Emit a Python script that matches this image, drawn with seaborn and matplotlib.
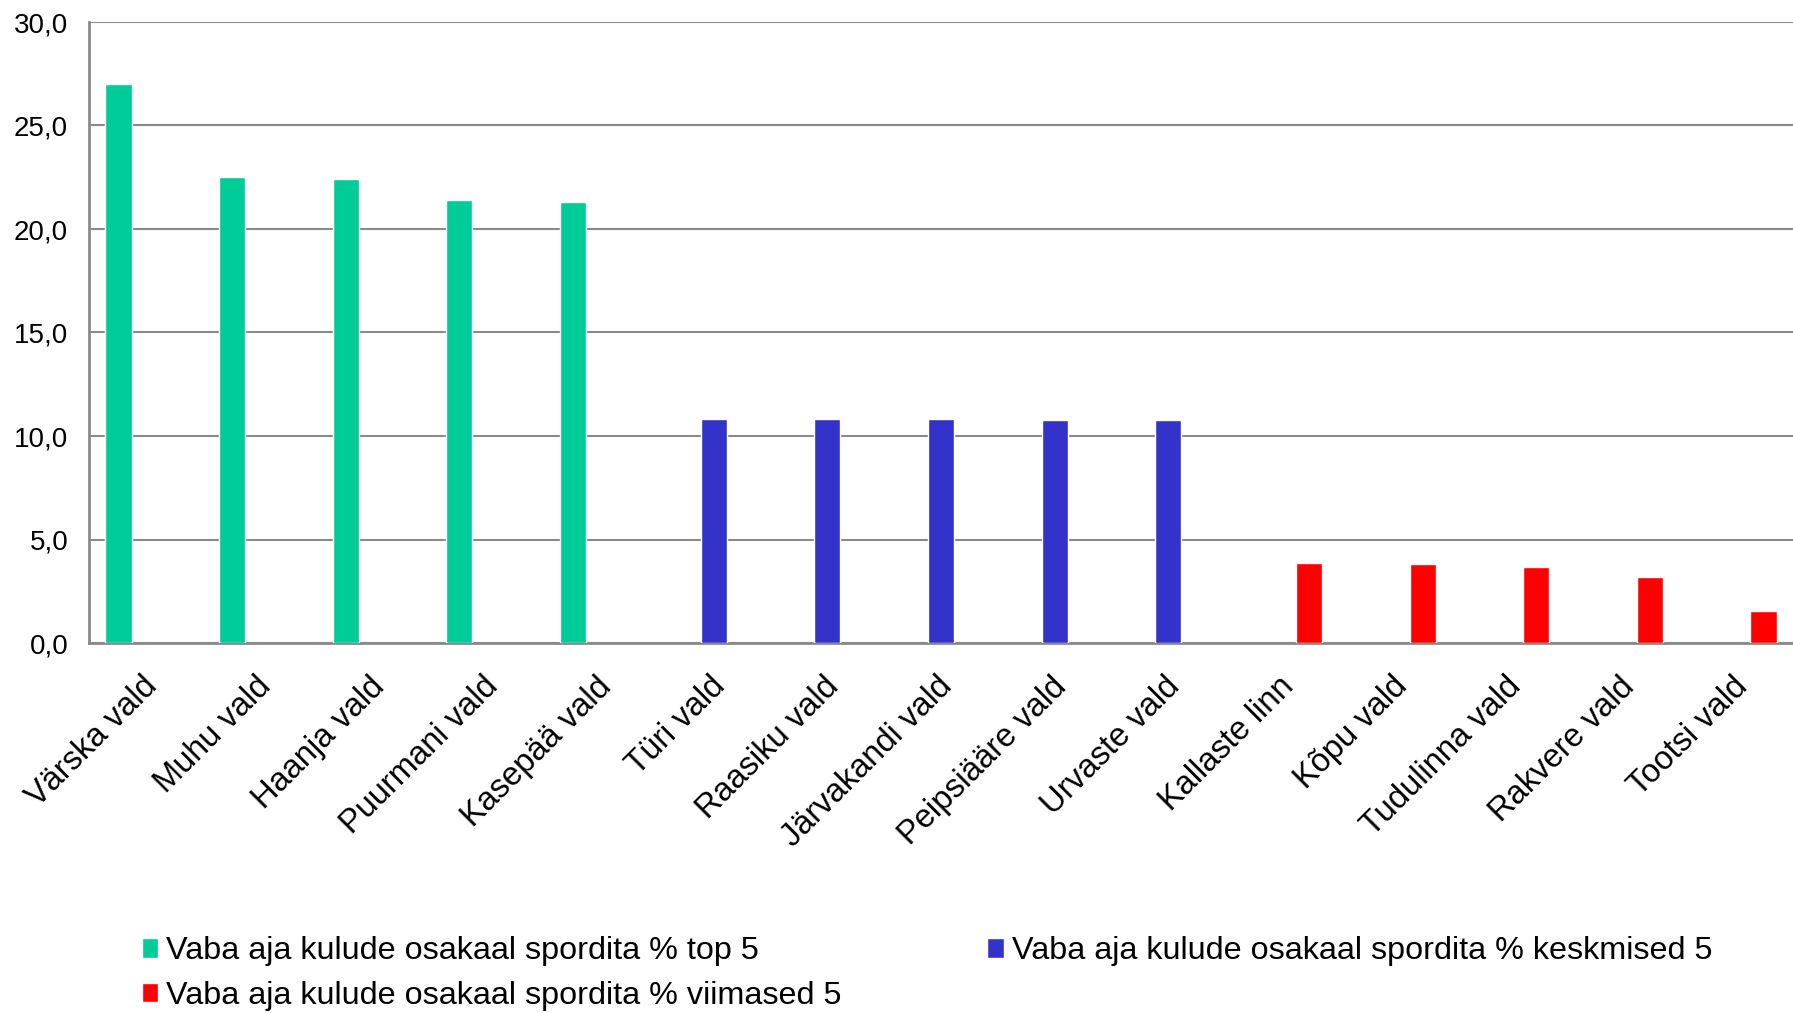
import matplotlib
matplotlib.use("Agg")
import matplotlib.pyplot as plt
import matplotlib.transforms as mtransforms
import pandas as pd
import seaborn as sns

# data
top_names = ['Värska vald', 'Muhu vald', 'Haanja vald', 'Puurmani vald', 'Kasepää vald']
top_values = [27.0, 22.5, 22.4, 21.4, 21.3]
mid_names = ['Türi vald', 'Raasiku vald', 'Järvakandi vald', 'Peipsiääre vald', 'Urvaste vald']
mid_values = [10.82, 10.82, 10.80, 10.77, 10.76]
low_names = ['Kallaste linn', 'Kõpu vald', 'Tudulinna vald', 'Rakvere vald', 'Tootsi vald']
low_values = [3.85, 3.83, 3.66, 3.17, 1.55]

series = ['Vaba aja kulude osakaal spordita % top 5',
          'Vaba aja kulude osakaal spordita % keskmised 5',
          'Vaba aja kulude osakaal spordita % viimased 5']
colors = ['#00CC99', '#3333CC', '#FF0000']
y_ticks = [0, 5, 10, 15, 20, 25, 30]

df = pd.DataFrame({
    'vald': top_names + mid_names + low_names,
    'value': top_values + mid_values + low_values,
    'series': [series[0]] * 5 + [series[1]] * 5 + [series[2]] * 5,
})

sns.set_theme(style='white')
plt.rcParams['font.family'] = ['Liberation Sans', 'DejaVu Sans']
plt.rcParams['text.color'] = 'black'
plt.rcParams['xtick.color'] = 'black'
plt.rcParams['ytick.color'] = 'black'

fig = plt.figure(figsize=(17.93, 10.13), dpi=100)
ax = fig.add_axes([89 / 1793, 1 - 643 / 1013, 1 - 89 / 1793, (643 - 22) / 1013])

sns.barplot(data=df, x='vald', y='value', hue='series', hue_order=series,
            palette=colors, width=0.72, gap=0.04, errorbar=None, dodge=True,
            saturation=1, ax=ax, zorder=3)

ax.set_xlim(-0.5, 14.5)
ax.set_ylim(0, 30)
ax.set_yticks(y_ticks)
ax.set_yticklabels([f'{v:.1f}'.replace('.', ',') for v in y_ticks], fontsize=20)
ax.yaxis.grid(True, color='#8a8a8a', linewidth=1.5, zorder=0)
ax.set_axisbelow(True)
ax.tick_params(axis='y', length=0, pad=15)
ax.tick_params(axis='x', length=0, pad=20)
shift = mtransforms.ScaledTranslation(-4 / 100, 0, fig.dpi_scale_trans)
for lbl in ax.get_xticklabels():
    lbl.set_rotation(45)
    lbl.set_ha('right')
    lbl.set_va('top')
    lbl.set_rotation_mode('anchor')
    lbl.set_fontsize(23.5)
    lbl.set_transform(lbl.get_transform() + shift)
ax.set_xlabel('')
ax.set_ylabel('')

for side in ['top', 'right']:
    ax.spines[side].set_visible(False)
for side in ['left', 'bottom']:
    ax.spines[side].set_color('#8a8a8a')
    ax.spines[side].set_linewidth(2)

# legend: green, blue on first row, red on second row
handles, labels = ax.get_legend_handles_labels()
ax.get_legend().remove()
order = [0, 2, 1]
fig.legend([handles[i] for i in order], [labels[i] for i in order],
           loc='upper left', bbox_to_anchor=(0.072, 0.0885), ncol=2,
           frameon=False, fontsize=23.3, handlelength=0.5, handleheight=0.55,
           handletextpad=0.25, labelspacing=0.45, columnspacing=4.5,
           borderaxespad=0)

fig.savefig('out.png', dpi=100)
